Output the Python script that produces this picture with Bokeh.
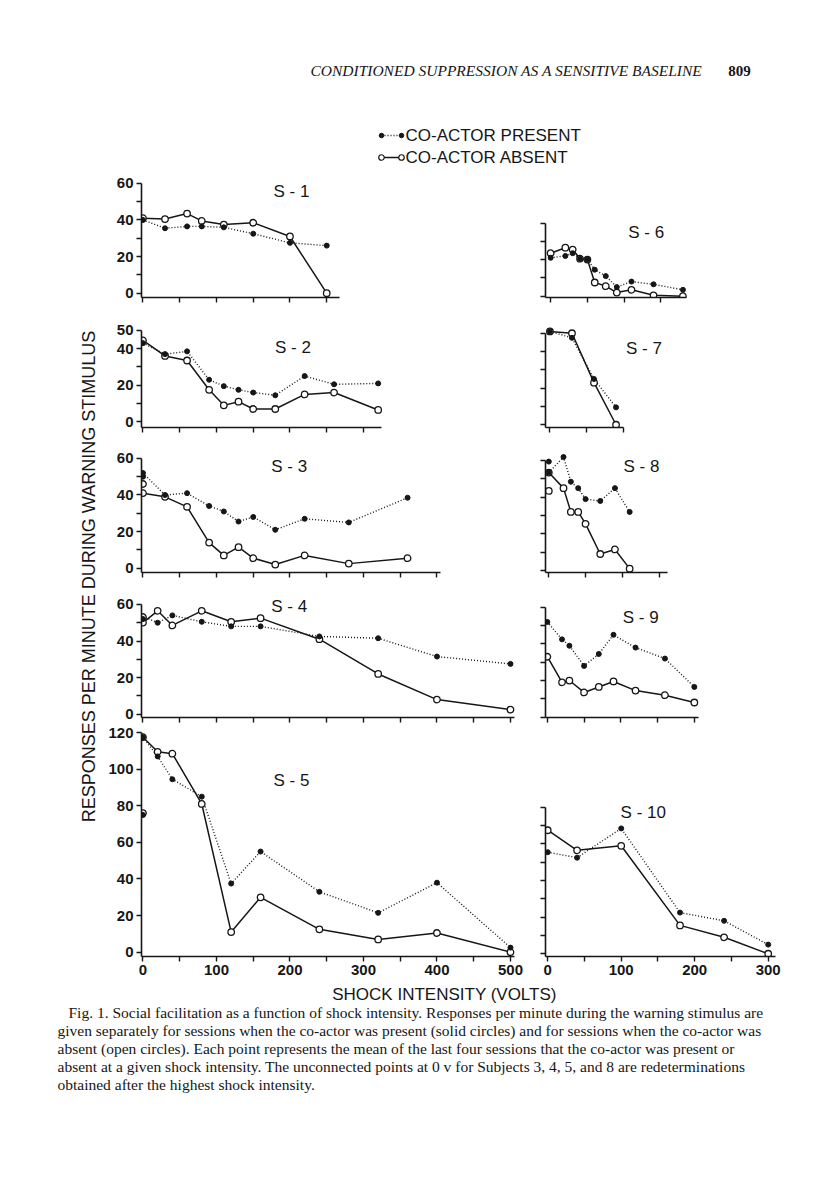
import math
from bokeh.plotting import figure
from bokeh.layouts import row, column
from bokeh.models import Range1d, FixedTicker, Label, Spacer
from bokeh.embed import file_html
from bokeh.resources import INLINE

# ---------------- data: shock intensity (volts) vs responses per minute ----------------
S1_VOLTS = [0, 30, 60, 80, 110, 150, 200, 250]
S1_PRESENT = [40, 35.5, 36.5, 36.5, 36, 32.5, 27.5, 26]
S1_ABSENT = [41, 40.5, 43.5, 39.5, 37.5, 38.5, 31, 0]

S2_VOLTS = [0, 30, 60, 90, 110, 130, 150, 180, 220, 260, 320]
S2_PRESENT = [43, 37, 38.5, 23, 19.5, 17.5, 16, 14.5, 25, 20.5, 21]
S2_ABSENT = [44.5, 36, 33.5, 17.5, 9, 11, 7, 7, 15, 16, 6.5]

S3_VOLTS = [0, 30, 60, 90, 110, 130, 150, 180, 220, 280, 360]
S3_PRESENT = [52, 40, 41, 34, 31, 25.5, 28, 21, 27, 25, 38.5]
S3_ABSENT = [41, 39, 33.5, 14, 7, 11.5, 5.5, 2, 7, 2.5, 5.5]
S3_REDET_PRESENT = [50]
S3_REDET_ABSENT = [46]

S4_VOLTS = [0, 20, 40, 80, 120, 160, 240, 320, 400, 500]
S4_PRESENT = [53.5, 50, 54, 50.5, 48, 48, 42.5, 41.5, 31.5, 27.5]
S4_ABSENT = [50, 56.5, 48.5, 56.5, 50.5, 52.5, 41, 22, 8, 2.5]
S4_REDET_PRESENT = [52]
S4_REDET_ABSENT = [53]

S5_VOLTS = [0, 20, 40, 80, 120, 160, 240, 320, 400, 500]
S5_PRESENT = [117.5, 107, 94.5, 85, 37.5, 55, 33, 21.5, 38, 2.5]
S5_ABSENT = [117.5, 109.5, 108.5, 81, 11, 30, 12.5, 7, 10.5, 0]
S5_REDET_PRESENT = [75]
S5_REDET_ABSENT = [76]

S6_VOLTS = [0, 20, 30, 40, 50, 60, 75, 90, 110, 140, 180]
S6_PRESENT = [21, 22, 23.5, 20.5, 20, 14.5, 11, 5, 8, 6.5, 3.5]
S6_ABSENT = [23.5, 26.5, 25.5, 20.5, 20, 7.5, 5.5, 2, 3.5, 0.5, 0]

S7_VOLTS = [0, 30, 60, 90]
S7_PRESENT = [51, 47.5, 25, 9.5]
S7_ABSENT = [51, 50, 23, 0]

S8_VOLTS = [0, 20, 30, 40, 50, 70, 90, 110]
S8_PRESENT = [53.5, 62, 48.5, 45, 39, 38, 45, 32]
S8_ABSENT = [53.5, 45, 32, 32, 25.5, 9, 11.5, 1]
S8_REDET_PRESENT = [59.5]
S8_REDET_ABSENT = [43.5]

S9_VOLTS = [0, 20, 30, 50, 70, 90, 120, 160, 200]
S9_PRESENT = [52, 42.5, 39, 28, 34.5, 45, 38, 32, 16.5]
S9_ABSENT = [33, 19, 20, 13.5, 16.5, 19.5, 14.5, 12, 8]

S10_VOLTS = [0, 40, 100, 180, 240, 300]
S10_PRESENT = [55.5, 52.5, 68.5, 22.5, 18, 5]
S10_ABSENT = [67.5, 56.5, 59, 15.5, 9, 0]

# tick values
Y_LABELS_60 = [0, 20, 40, 60]
Y_LABELS_50 = [0, 20, 40, 50]
Y_LABELS_120 = [0, 20, 40, 60, 80, 100, 120]
X_LABELS_LEFT = [0, 100, 200, 300, 400, 500]
X_LABELS_RIGHT = [0, 100, 200, 300]

HEADER_TEXT = "CONDITIONED SUPPRESSION AS A SENSITIVE BASELINE"
PAGE_NUMBER = "809"
LEGEND_PRESENT = "CO-ACTOR PRESENT"
LEGEND_ABSENT = "CO-ACTOR ABSENT"
Y_TITLE = "RESPONSES PER MINUTE DURING WARNING STIMULUS"
X_TITLE = "SHOCK INTENSITY (VOLTS)"
CAPTION = [
    "Fig. 1. Social facilitation as a function of shock intensity. Responses per minute during the warning stimulus are",
    "given separately for sessions when the co-actor was present (solid circles) and for sessions when the co-actor was",
    "absent (open circles). Each point represents the mean of the last four sessions that the co-actor was present or",
    "absent at a given shock intensity. The unconnected points at 0 v for Subjects 3, 4, 5, and 8 are redeterminations",
    "obtained after the highest shock intensity.",
]

# ---------------- style ----------------
INK = "#161616"
SANS = "Liberation Sans"
SERIF = "Liberation Serif"
PX_V = 0.735   # pixels per volt
PX_U = 1.83    # pixels per response/min


def steps(a, b, s):
    return list(range(a, b + 1, s))


def panel(title, volts, present, absent, redet_p=None, redet_a=None, *,
          width, height, bl, br, bt, bb, x0, y0, x_bound, y_top,
          y_major, y_minor, x_major, x_minor, tx, ty):
    fw = width - bl - br
    fh = height - bt - bb
    p = figure(width=width, height=height, output_backend="svg", toolbar_location=None,
               x_range=Range1d(x0, x0 + fw / PX_V), y_range=Range1d(y0, y0 + fh / PX_U),
               min_border_left=bl, min_border_right=br, min_border_top=bt, min_border_bottom=bb,
               background_fill_color="white", border_fill_color="white",
               outline_line_color=None)
    p.grid.visible = False
    for ax in (p.xaxis[0], p.yaxis[0]):
        ax.axis_line_color = INK
        ax.axis_line_width = 1.6
        ax.major_tick_line_color = INK
        ax.minor_tick_line_color = INK
        ax.major_tick_line_width = 1.4
        ax.minor_tick_line_width = 1.4
        ax.major_tick_in = 0
        ax.major_tick_out = 5
        ax.minor_tick_in = 0
        ax.minor_tick_out = 5
        ax.major_label_standoff = 3
        ax.major_label_text_font = SANS
        ax.major_label_text_font_size = "15px"
        ax.major_label_text_font_style = "bold"
        ax.major_label_text_color = INK
    p.xaxis[0].ticker = FixedTicker(ticks=x_major, minor_ticks=x_minor)
    p.xaxis[0].bounds = (x0, x_bound)
    p.yaxis[0].ticker = FixedTicker(ticks=y_major, minor_ticks=y_minor)
    p.yaxis[0].bounds = (y0, y_top)

    p.line(volts, absent, line_color=INK, line_width=1.5)
    p.line(volts, present, line_color=INK, line_width=1.4, line_dash="1 2")
    p.scatter(volts, absent, marker="circle", size=6.5, fill_color="white",
              line_color=INK, line_width=1.3)
    p.scatter(volts, present, marker="circle", size=5, fill_color=INK, line_color=INK)
    if redet_a is not None:
        p.scatter([0] * len(redet_a), redet_a, marker="circle", size=6.5, fill_color="white",
                  line_color=INK, line_width=1.3)
    if redet_p is not None:
        p.scatter([0] * len(redet_p), redet_p, marker="circle", size=5, fill_color=INK,
                  line_color=INK)
    p.add_layout(Label(x=tx, y=ty, text=title, text_font=SANS, text_font_size="17px",
                       text_color=INK, text_align="center", text_baseline="middle"))
    return p


LW, LBL, LBR = 430, 41, 10      # left column figure geometry
RW, RBL, RBR = 270, 15, 10      # right column figure geometry

left = [
    panel("S - 1", S1_VOLTS, S1_PRESENT, S1_ABSENT, width=LW, height=139, bl=LBL, br=LBR, bt=8, bb=10,
          x0=-2, y0=-2.35, x_bound=268, y_top=60, y_major=Y_LABELS_60, y_minor=[10, 30, 50],
          x_major=[], x_minor=steps(0, 250, 50), tx=202, ty=55.6),
    panel("S - 2", S2_VOLTS, S2_PRESENT, S2_ABSENT, width=LW, height=130, bl=LBL, br=LBR, bt=15, bb=10,
          x0=-2, y0=-3.1, x_bound=325, y_top=50, y_major=Y_LABELS_50, y_minor=[10, 30],
          x_major=[], x_minor=steps(0, 300, 50), tx=204, ty=40.6),
    panel("S - 3", S3_VOLTS, S3_PRESENT, S3_ABSENT, S3_REDET_PRESENT, S3_REDET_ABSENT,
          width=LW, height=145, bl=LBL, br=LBR, bt=8, bb=10,
          x0=-2, y0=-2.35, x_bound=405, y_top=60, y_major=Y_LABELS_60, y_minor=[10, 30, 50],
          x_major=[], x_minor=steps(0, 400, 50), tx=199, ty=55.6),
    panel("S - 4", S4_VOLTS, S4_PRESENT, S4_ABSENT, S4_REDET_PRESENT, S4_REDET_ABSENT,
          width=LW, height=143, bl=LBL, br=LBR, bt=10, bb=8,
          x0=-2, y0=-1.8, x_bound=505, y_top=60, y_major=Y_LABELS_60, y_minor=[10, 30, 50],
          x_major=[], x_minor=steps(0, 500, 50), tx=199, ty=58.9),
    panel("S - 5", S5_VOLTS, S5_PRESENT, S5_ABSENT, S5_REDET_PRESENT, S5_REDET_ABSENT,
          width=LW, height=257, bl=LBL, br=LBR, bt=5, bb=26,
          x0=-2, y0=-2.35, x_bound=505, y_top=120, y_major=Y_LABELS_120, y_minor=[],
          x_major=X_LABELS_LEFT, x_minor=steps(50, 450, 100), tx=202, ty=93.6),
]

right = [
    panel("S - 6", S6_VOLTS, S6_PRESENT, S6_ABSENT, width=RW, height=139, bl=RBL, br=RBR, bt=8, bb=10,
          x0=-7, y0=-0.7, x_bound=185, y_top=40, y_major=[], y_minor=steps(0, 40, 10),
          x_major=[], x_minor=steps(0, 150, 50), tx=130, ty=34.8),
    panel("S - 7", S7_VOLTS, S7_PRESENT, S7_ABSENT, width=RW, height=130, bl=RBL, br=RBR, bt=15, bb=10,
          x0=-6, y0=-1.5, x_bound=100, y_top=50, y_major=[], y_minor=steps(0, 50, 10),
          x_major=[], x_minor=steps(0, 100, 50), tx=128, ty=41.7),
    panel("S - 8", S8_VOLTS, S8_PRESENT, S8_ABSENT, S8_REDET_PRESENT, S8_REDET_ABSENT,
          width=RW, height=145, bl=RBL, br=RBR, bt=8, bb=10,
          x0=-4.5, y0=-1.1, x_bound=162, y_top=60, y_major=[], y_minor=steps(0, 60, 10),
          x_major=[], x_minor=steps(0, 150, 50), tx=126, ty=56.6),
    panel("S - 9", S9_VOLTS, S9_PRESENT, S9_ABSENT, width=RW, height=143, bl=RBL, br=RBR, bt=10, bb=8,
          x0=-2.5, y0=-0.2, x_bound=205, y_top=60, y_major=[], y_minor=steps(0, 60, 10),
          x_major=[], x_minor=steps(0, 200, 50), tx=127, ty=54.5),
    panel("S - 10", S10_VOLTS, S10_PRESENT, S10_ABSENT, width=RW, height=257, bl=RBL, br=RBR, bt=5, bb=26,
          x0=-3, y0=-1.5, x_bound=310, y_top=80, y_major=[], y_minor=steps(0, 80, 10),
          x_major=X_LABELS_RIGHT, x_minor=steps(50, 250, 100), tx=130, ty=77.2),
]


def canvas(w, h, x0, y0):
    c = figure(width=w, height=h, output_backend="svg", toolbar_location=None,
               x_range=Range1d(x0, x0 + w), y_range=Range1d(y0 + h, y0),
               x_axis_type=None, y_axis_type=None, min_border=0,
               background_fill_color="white", border_fill_color="white",
               outline_line_color=None)
    c.grid.visible = False
    return c


# header (page coordinates 8..168)
head = canvas(800, 160, 8, 8)
head.add_layout(Label(x=506, y=70, text=HEADER_TEXT, text_font=SERIF, text_font_size="15.5px",
                      text_font_style="italic", text_color=INK, text_align="center",
                      text_baseline="middle"))
head.add_layout(Label(x=739, y=70, text=PAGE_NUMBER, text_font=SERIF, text_font_size="15px",
                      text_font_style="bold", text_color=INK, text_align="center",
                      text_baseline="middle"))
head.line([381, 401], [135, 135], line_color=INK, line_width=1.3, line_dash="1 2")
head.scatter([381, 401], [135, 135], marker="circle", size=4.5, fill_color=INK, line_color=INK)
head.line([381, 401], [157, 157], line_color=INK, line_width=1.4)
head.scatter([381, 401], [157, 157], marker="circle", size=5.5, fill_color="white",
             line_color=INK, line_width=1.2)
head.add_layout(Label(x=405, y=135, text=LEGEND_PRESENT, text_font=SANS, text_font_size="17px",
                      text_color=INK, text_align="left", text_baseline="middle"))
head.add_layout(Label(x=405, y=157, text=LEGEND_ABSENT, text_font=SANS, text_font_size="17px",
                      text_color=INK, text_align="left", text_baseline="middle"))

# y title (page coordinates x 8..100, y 168..982)
ytitle = canvas(92, 814, 8, 168)
ytitle.add_layout(Label(x=88, y=576, text=Y_TITLE, angle=math.pi / 2, text_font=SANS,
                        text_font_size="18px", text_color=INK, text_align="center",
                        text_baseline="middle"))

# footer (page coordinates 982..1097)
foot = canvas(800, 115, 8, 982)
foot.add_layout(Label(x=444, y=994, text=X_TITLE, text_font=SANS, text_font_size="17px",
                      text_color=INK, text_align="center", text_baseline="middle"))
for i, line in enumerate(CAPTION):
    foot.add_layout(Label(x=68 if i == 0 else 57, y=1012 + 18 * i, text=line,
                          text_font=SERIF, text_font_size="15.5px", text_color=INK,
                          text_align="left", text_baseline="middle"))

body = row(ytitle, column(*left), column(*right))
page = column(head, body, foot)
root = column(Spacer(height=8), row(Spacer(width=8), page))

open("out.html", "w").write(file_html(root, INLINE))
